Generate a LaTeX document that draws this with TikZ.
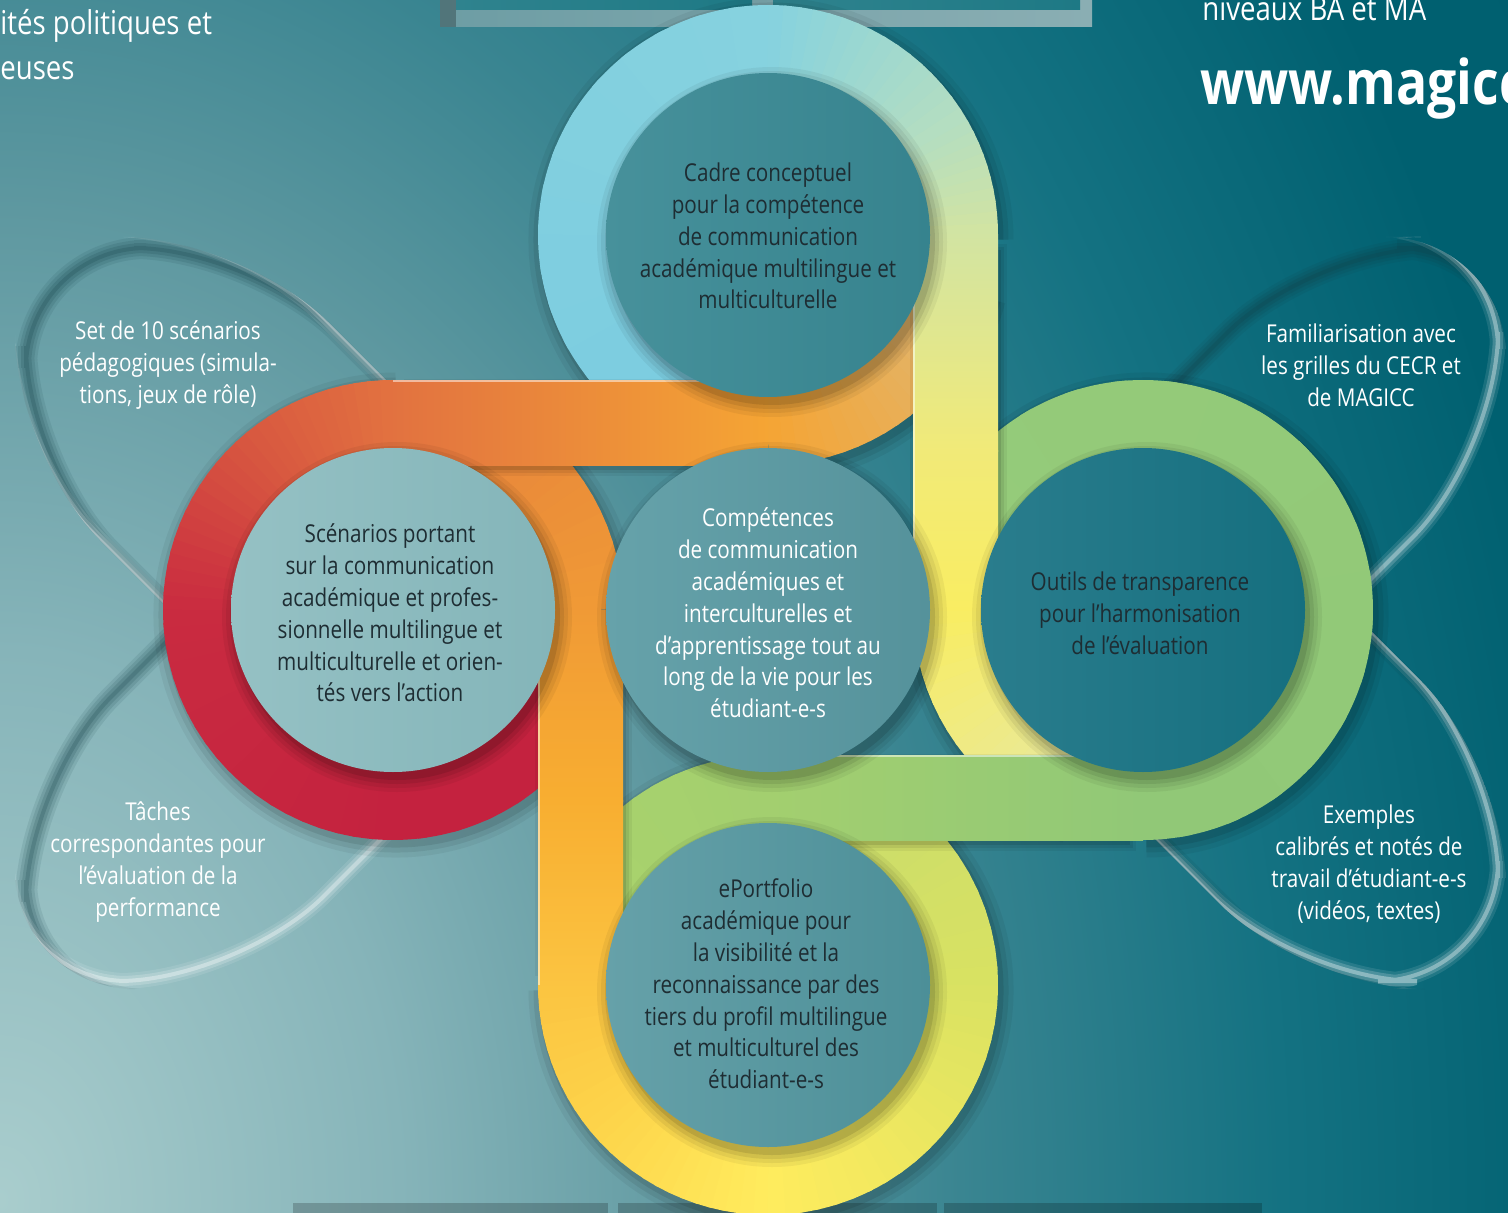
\documentclass[tikz,border=0pt]{standalone}
\usepackage{fontspec}
\setmainfont{Open Sans}[FakeStretch=0.84]
\usetikzlibrary{calc}

\definecolor{bg0}{HTML}{A9CDCD}
\definecolor{bg1}{HTML}{86B4B9}
\definecolor{bg2}{HTML}{5E98A0}
\definecolor{bg3}{HTML}{3A8591}
\definecolor{bg4}{HTML}{147282}
\definecolor{bg5}{HTML}{006070}
\definecolor{bg6}{HTML}{005D6D}
\pgfdeclareradialshading{bgsh}{\pgfpoint{0bp}{0bp}}{color(0bp)=(bg0); color(3.125bp)=(bg1); color(5.625bp)=(bg2); color(7.5bp)=(bg3); color(10bp)=(bg4); color(12.5bp)=(bg5); color(18.75bp)=(bg6); color(50bp)=(bg6)}

\definecolor{lA}{HTML}{C4223F}
\definecolor{lB}{HTML}{C92B40}
\definecolor{lC}{HTML}{D85840}
\definecolor{lD}{HTML}{E27240}
\definecolor{lE}{HTML}{F5A534}
\definecolor{lF}{HTML}{DDB878}
\definecolor{tA}{HTML}{7BCCE0}
\definecolor{tB}{HTML}{86D2DF}
\definecolor{tC}{HTML}{B5DEC0}
\definecolor{tD}{HTML}{D2E4A2}
\definecolor{tE}{HTML}{F1EA78}
\definecolor{tF}{HTML}{F9ED62}
\definecolor{tG}{HTML}{E6E8A2}
\definecolor{rA}{HTML}{95CB7A}
\definecolor{rA2}{HTML}{91C877}
\definecolor{rB}{HTML}{A3CF6F}
\definecolor{rC}{HTML}{AAD36C}
\definecolor{bA}{HTML}{C9DC6C}
\definecolor{bB}{HTML}{D9E262}
\definecolor{bC}{HTML}{FFEC5E}
\definecolor{bD}{HTML}{FDD44A}
\definecolor{bE}{HTML}{FBC441}
\definecolor{bM}{HTML}{F8AE31}
\definecolor{bF}{HTML}{F09A36}
\definecolor{bG}{HTML}{E6823C}
\definecolor{txtdark}{HTML}{1E2D33}
\definecolor{leafdark}{HTML}{123E45}
\definecolor{pA}{HTML}{6D9DA4}
\definecolor{pB}{HTML}{8AAEB3}
\definecolor{pC}{HTML}{2F838E}
\definecolor{pD}{HTML}{1E7985}
% disc colours (left / right side)
\definecolor{dTl}{HTML}{47919B}
\definecolor{dTr}{HTML}{36838E}
\definecolor{dLl}{HTML}{95C1C4}
\definecolor{dLr}{HTML}{84B5B9}
\definecolor{dCl}{HTML}{66A2AA}
\definecolor{dCr}{HTML}{55929B}
\definecolor{dRl}{HTML}{2A7D8D}
\definecolor{dRr}{HTML}{156F7F}
\definecolor{dBl}{HTML}{66A1A9}
\definecolor{dBr}{HTML}{4C8F98}

\newcommand\dfont{\fontsize{14pt}{18.1pt}\selectfont}
\newcommand\bigtfont{\fontsize{18.7pt}{25.5pt}\selectfont}
\newcommand\wwwfont{\fontsize{35pt}{40pt}\selectfont\bfseries}
\newcommand\bw{1.7cm}

% gradient arc: centre, start, end, colour A, colour B, steps
\newcommand\garc[6]{%
  \pgfmathsetmacro\gstep{(#3-(#2))/#6}%
  \foreach \k in {1,...,#6}{%
    \pgfmathsetmacro\aA{#2+\gstep*(\k-1)}%
    \pgfmathsetmacro\aB{#2+\gstep*(\k+0.3)}%
    \pgfmathsetmacro\pp{100-100*(\k-0.5)/#6}%
    \draw[line width=\bw, color=#4!\pp!#5] (#1) ++(\aA:187.5) arc[start angle=\aA, end angle=\aB, radius=187.5];
  }%
}
% soft shadow of an arc
\newcommand\sarc[3]{%
  \foreach \ww/\oo in {2.2cm/0.05, 2.0cm/0.07, 1.8cm/0.09}{%
    \draw[black, opacity=\oo, line width=\ww] ($(#1)+(3,5)$) ++(#2:187.5) arc[start angle=#2, end angle=#3, radius=187.5];
  }%
}
% inset look of a leaf
\newcommand\leafdeco[1]{%
  \begin{scope}
    \clip #1;
    \begin{scope}[shift={(11,11)}]
      \draw[leafdark, opacity=0.10, line width=0.44cm] #1;
      \draw[leafdark, opacity=0.13, line width=0.32cm] #1;
      \draw[leafdark, opacity=0.16, line width=0.2cm] #1;
      \draw[leafdark, opacity=0.20, line width=0.08cm] #1;
    \end{scope}
    \begin{scope}[shift={(-8,-8)}]
      \draw[white, opacity=0.10, line width=0.32cm] #1;
      \draw[white, opacity=0.18, line width=0.2cm] #1;
      \draw[white, opacity=0.35, line width=0.08cm] #1;
    \end{scope}
  \end{scope}
}
% disc with its shadow: x, y, left colour, right colour
\newcommand\discshape[4]{%
  \foreach \rr/\oo in {175/0.05, 171/0.06, 167/0.08, 163/0.10}{%
    \fill[black, opacity=\oo] (#1+4,#2+7) circle (\rr);
  }%
  \shade[left color=#3, right color=#4] (#1,#2) circle (162);
}

\tikzset{
  dtxt/.style={align=center, text=txtdark, font=\dfont, inner sep=0pt},
  wtxt/.style={align=center, text=white, font=\dfont, inner sep=0pt},
  toptxt/.style={anchor=base west, inner sep=0pt, text=white, font=\bigtfont},
}

\begin{document}
\begin{tikzpicture}[x=0.02cm, y=-0.02cm]
\useasboundingbox (0,0) rectangle (1508,1213);

% background
\fill[bg6] (0,0) rectangle (1508,1213);
\begin{scope}
  \clip (0,0) rectangle (1508,1213);
  \fill[shading=bgsh] (0,1200) ellipse [x radius=3200, y radius=4400];
\end{scope}

% cut-off panels at the top and bottom
\shade[left color=pA, right color=pB] (440,0) rectangle (1092,27);
\fill[black, opacity=0.25] (440,0) rectangle (456,27);
\shade[left color=pC, right color=pD] (456,0) rectangle (752,10);
\shade[left color=pC, right color=pD] (773,0) rectangle (1080,10);
\fill[black, opacity=0.2] (293,1203) rectangle (608,1213);
\fill[black, opacity=0.2] (618,1203) rectangle (937,1213);
\fill[black, opacity=0.2] (944,1203) rectangle (1262,1213);

% leaves
\def\leafTL{[rounded corners=2.4cm] (600,594) -- (243,237) -- (15,237) -- (15,455) -- (380,820) -- cycle}
\def\leafBL{[rounded corners=2.4cm] (600,636) -- (247,989) -- (15,989) -- (15,771) -- (380,406) -- cycle}
\def\leafTR{[rounded corners=2.4cm] (944,594) -- (1301,237) -- (1506,237) -- (1506,460) -- (1146,820) -- cycle}
\def\leafBR{[rounded corners=2.4cm] (948,632) -- (1305,989) -- (1506,989) -- (1506,766) -- (1146,406) -- cycle}
\leafdeco{\leafTL}
\leafdeco{\leafBL}
\leafdeco{\leafTR}
\leafdeco{\leafBR}

% ---- arcs (lower layer)
\sarc{393,610}{20}{270}
\garc{393,610}{20}{90}{lA}{lA}{8}
\garc{393,610}{90}{180}{lA}{lB}{20}
\garc{393,610}{180}{230}{lB}{lC}{14}
\garc{393,610}{230}{270}{lC}{lD}{12}
\sarc{768,235}{90}{15}
\garc{768,235}{90}{15}{lE}{lF}{20}
\sarc{768,235}{110}{360}
\garc{768,235}{110}{270}{tA}{tB}{16}
\garc{768,235}{270}{330}{tB}{tC}{16}
\garc{768,235}{330}{360}{tC}{tD}{10}
\sarc{1143,610}{180}{110}
\garc{1143,610}{180}{110}{tF}{tG}{18}
\sarc{1143,610}{200}{450}
\garc{1143,610}{200}{450}{rA}{rA2}{20}
\sarc{768,985}{270}{200}
\garc{768,985}{270}{200}{rB}{rC}{12}
\sarc{768,985}{290}{540}
\garc{768,985}{290}{360}{bA}{bB}{14}
\garc{768,985}{360}{450}{bB}{bC}{20}
\garc{768,985}{450}{500}{bC}{bD}{14}
\garc{768,985}{500}{540}{bD}{bE}{12}
\sarc{393,610}{360}{285}
\garc{393,610}{360}{285}{bF}{bG}{18}

% ---- legs (upper layer)
\foreach \e/\oo in {6/0.05, 3/0.07, 0/0.10}{%
  \fill[black, opacity=\oo] (410-\e,385-\e) rectangle (755+\e,470+\e);
  \fill[black, opacity=\oo] (916-\e,250-\e) rectangle (1001+\e,595+\e);
  \fill[black, opacity=\oo] (785-\e,760-\e) rectangle (1130+\e,845+\e);
  \fill[black, opacity=\oo] (541-\e,625-\e) rectangle (626+\e,970+\e);
}
\shade[left color=lD, right color=lE] (393,380) rectangle (768,465);
\shade[top color=tD, bottom color=tE] (913,235) rectangle (998,451);
\shade[top color=tE, bottom color=tF] (913,450) rectangle (998,610);
\shade[left color=rB, right color=rA2] (768,755) rectangle (1143,840);
\shade[top color=bF, bottom color=bM] (538,610) rectangle (623,801);
\shade[top color=bM, bottom color=bE] (538,800) rectangle (623,985);
\draw[white, opacity=0.5, line width=0.03cm] (393,381) -- (768,381);
\draw[white, opacity=0.5, line width=0.03cm] (914,235) -- (914,610);
\draw[white, opacity=0.5, line width=0.03cm] (768,756) -- (1143,756);
\draw[white, opacity=0.5, line width=0.03cm] (539,610) -- (539,985);

% ---- discs
\discshape{768}{235}{dTl}{dTr}
\discshape{393}{610}{dLl}{dLr}
\discshape{768}{610}{dCl}{dCr}
\discshape{1143}{610}{dRl}{dRr}
\discshape{768}{985}{dBl}{dBr}

% ---- texts
\node[dtxt] (nT) at (768,236) {Cadre conceptuel\\pour la compétence\\de communication\\académique multilingue et\\multiculturelle};
\node[dtxt] (nL) at (390,613) {Scénarios portant\\sur la communication\\académique et profes-\\sionnelle multilingue et\\multiculturelle et orien-\\tés vers l’action};
\node[wtxt] (nC) at (768,613) {Compétences\\de communication\\académiques et\\interculturelles et\\d’apprentissage tout au\\long de la vie pour les\\étudiant-e-s};
\node[dtxt] (nR) at (1140,613) {Outils de transparence\\pour l’harmonisation\\de l’évaluation};
\node[dtxt] (nB) at (766,984) {ePortfolio\\académique pour\\la visibilité et la\\reconnaissance par des\\tiers du profil multilingue\\et multiculturel des\\étudiant-e-s};
\node[wtxt] (lTL) at (168,365) {Set de 10 scénarios\\pédagogiques (simula-\\tions, jeux de rôle)};
\node[wtxt] (lBL) at (158,862) {Tâches\\correspondantes pour\\l’évaluation de la\\performance};
\node[wtxt] (lTR) at (1361,365) {Familiarisation avec\\les grilles du CECR et\\de MAGICC};
\node[wtxt] (lBR) at (1369,864) {Exemples\\calibrés et notés de\\travail d’étudiant-e-s\\(vidéos, textes)};

\node[toptxt] (tl1) at (0,35) {ités politiques et};
\node[toptxt] (tl2) at (0,80) {euses};
\node[toptxt] (tr1) at (1202,21) {niveaux BA et MA};
\node[anchor=base west, inner sep=0pt, text=white, font=\wwwfont] (tr2) at (1200,105) {www.magicc};
\end{tikzpicture}
\end{document}
